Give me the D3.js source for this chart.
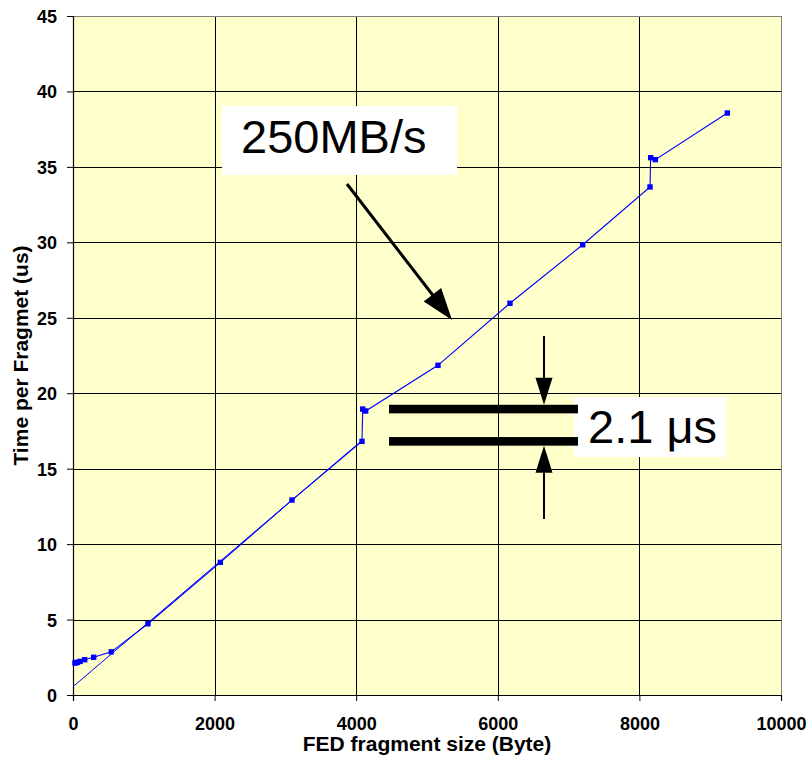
<!DOCTYPE html>
<html>
<head>
<meta charset="utf-8">
<script src="https://cdn.jsdelivr.net/npm/d3@7"></script>
<style>
  html, body { margin: 0; padding: 0; background: #ffffff; }
  svg { display: block; }
  text { font-family: "Liberation Sans", Arial, sans-serif; }
</style>
</head>
<body>
<svg id="chart" width="810" height="757"></svg>
<script>
// Measured transfer time per FED fragment
const fragmentSize = [28, 44, 64, 100, 165, 292, 541, 1059, 2081, 3093, 4082, 4092, 4134, 5155, 6172, 7199, 8150, 8159, 8225, 9242];
const timePerFragment = [2.12, 2.14, 2.17, 2.23, 2.34, 2.5, 2.86, 4.72, 8.79, 12.92, 16.81, 18.95, 18.82, 21.85, 25.96, 29.84, 33.67, 35.61, 35.48, 38.57];

// Linear fit: 0.55 us offset + 4 ns per byte (250 MB/s)
const fitX = [0, 4082];
const fitY = [0.55, 0.55 + 0.004 * 4082];

const xTicks = [0, 2000, 4000, 6000, 8000, 10000];
const yTicks = [0, 5, 10, 15, 20, 25, 30, 35, 40, 45];

const gapLevels = [18.95, 16.81];   // the two levels of the 4 kB step
const gapLabel = "2.1 \u03bcs";
const rateLabel = "250MB/s";

const margin = { left: 73, top: 16, right: 29, bottom: 62 };
const W = 810, H = 757;
const iw = W - margin.left - margin.right;
const ih = H - margin.top - margin.bottom;

const svg = d3.select("#chart");
const g = svg.append("g").attr("transform", `translate(${margin.left},${margin.top})`);

const x = d3.scaleLinear().domain([0, 10000]).range([0, iw]);
const y = d3.scaleLinear().domain([0, 45]).range([ih, 0]);

// plot background
g.append("rect").attr("width", iw).attr("height", ih).attr("fill", "#ffffcc");

// grid
g.append("g").selectAll("line").data(yTicks.slice(1, -1)).join("line")
  .attr("x1", 0).attr("x2", iw)
  .attr("y1", d => Math.round(y(d)) + 0.5).attr("y2", d => Math.round(y(d)) + 0.5)
  .attr("stroke", "#000").attr("stroke-width", 1);
g.append("g").selectAll("line").data(xTicks.slice(1, -1)).join("line")
  .attr("y1", 0).attr("y2", ih)
  .attr("x1", d => Math.round(x(d)) + 0.5).attr("x2", d => Math.round(x(d)) + 0.5)
  .attr("stroke", "#000").attr("stroke-width", 1);

// top and right border
g.append("line").attr("x1", 0).attr("x2", iw).attr("y1", 0.5).attr("y2", 0.5).attr("stroke", "#808080");
g.append("line").attr("x1", iw + 0.5).attr("x2", iw + 0.5).attr("y1", 0).attr("y2", ih).attr("stroke", "#808080");

// axes
const xAxis = g.append("g").attr("transform", `translate(0,${ih})`)
  .call(d3.axisBottom(x).tickValues(xTicks).tickSize(6).tickPadding(16).tickFormat(d3.format("d")));
const yAxis = g.append("g")
  .call(d3.axisLeft(y).tickValues(yTicks).tickSize(6).tickPadding(10).tickFormat(d3.format("d")));
[xAxis, yAxis].forEach(a => {
  a.select(".domain").attr("stroke", "#000").attr("stroke-width", 1.2);
  a.selectAll(".tick line").attr("stroke", "#000");
  a.selectAll(".tick text").attr("fill", "#000")
    .style("font-family", "'Liberation Sans', Arial, sans-serif")
    .style("font-size", "18px").style("font-weight", "bold");
});
yAxis.selectAll(".tick text").attr("dy", "0.36em");

// axis titles
svg.append("text").attr("x", margin.left + iw / 2).attr("y", 751)
  .attr("text-anchor", "middle").style("font-size", "21px").style("font-weight", "bold")
  .text("FED fragment size (Byte)");
svg.append("text")
  .attr("transform", `translate(28,${margin.top + ih / 2}) rotate(-90)`)
  .attr("text-anchor", "middle").style("font-size", "21px").style("font-weight", "bold")
  .text("Time per Fragmet (us)");

// fit line
const line = d3.line().x(d => x(d[0])).y(d => y(d[1]));
g.append("path").datum(d3.zip(fitX, fitY)).attr("d", line)
  .attr("fill", "none").attr("stroke", "#0000ff").attr("stroke-width", 1);

// measured series
const pts = d3.zip(fragmentSize, timePerFragment);
g.append("path").datum(pts).attr("d", line)
  .attr("fill", "none").attr("stroke", "#0000ff").attr("stroke-width", 1.1);
g.append("g").selectAll("rect").data(pts).join("rect")
  .attr("x", d => x(d[0]) - 2.7).attr("y", d => y(d[1]) - 2.7)
  .attr("width", 5.4).attr("height", 5.4).attr("fill", "#0000ff");

// arrowhead helper: filled triangle with tip at (tx,ty) pointing along angle
function arrowHead(sel, tx, ty, ang, len, half) {
  const c = Math.cos(ang), s = Math.sin(ang);
  const bx = tx - c * len, by = ty - s * len;
  const p = [[tx, ty], [bx - s * half, by + c * half], [bx + s * half, by - c * half]];
  sel.append("path").attr("d", "M" + p.map(q => q.join(",")).join("L") + "Z").attr("fill", "#000");
}

// 250MB/s callout
const ann = svg.append("g");
ann.append("rect").attr("x", 222).attr("y", 106).attr("width", 235).attr("height", 69).attr("fill", "#fff");
ann.append("text").attr("x", 241).attr("y", 153).style("font-size", "47px").attr("fill", "#000").text(rateLabel);
{
  const x0 = 347, y0 = 184, x1 = 452, y1 = 320;
  const ang = Math.atan2(y1 - y0, x1 - x0);
  ann.append("line").attr("x1", x0).attr("y1", y0)
    .attr("x2", x1 - Math.cos(ang) * 25).attr("y2", y1 - Math.sin(ang) * 25)
    .attr("stroke", "#000").attr("stroke-width", 3);
  arrowHead(ann, x1, y1, ang, 32, 11);
}

// 2.1 us step marker
const yTop = margin.top + y(gapLevels[0]);
const yBot = margin.top + y(gapLevels[1]);
const ax = 544;
ann.append("rect").attr("x", 574).attr("y", 397).attr("width", 152).attr("height", 60).attr("fill", "#fff");
ann.append("text").attr("x", 588).attr("y", 443).style("font-size", "47px").attr("fill", "#000").text(gapLabel);
[yTop, yBot].forEach(yy => {
  ann.append("rect").attr("x", 389).attr("y", yy - 4.3).attr("width", 189).attr("height", 8.6).attr("fill", "#000");
});
ann.append("line").attr("x1", ax).attr("x2", ax).attr("y1", 336).attr("y2", yTop - 4.3 - 20)
  .attr("stroke", "#000").attr("stroke-width", 2);
arrowHead(ann, ax, yTop - 4.3, Math.PI / 2, 27, 8.5);
ann.append("line").attr("x1", ax).attr("x2", ax).attr("y1", yBot + 4.3 + 20).attr("y2", 519)
  .attr("stroke", "#000").attr("stroke-width", 2);
arrowHead(ann, ax, yBot + 4.3, -Math.PI / 2, 27, 8.5);
</script>
</body>
</html>
